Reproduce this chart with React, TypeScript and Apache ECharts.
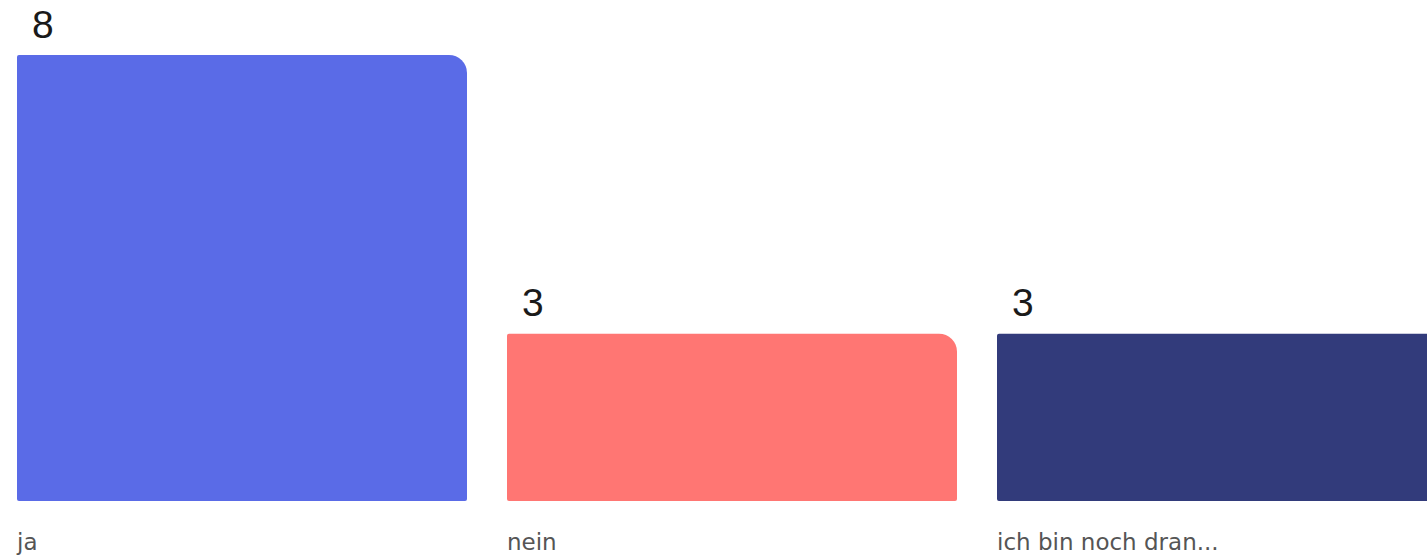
import React, { useEffect, useRef } from "react";
import * as echarts from "echarts";

const categories = ["ja", "nein", "ich bin noch dran..."];
const values = [8, 3, 3];
const barColors = ["#5A6BE7", "#FF7673", "#323B7B"];

export default function App() {
  const ref = useRef<HTMLDivElement>(null);
  useEffect(() => {
    if (!ref.current) return;
    const chart = echarts.init(ref.current, null, { renderer: "svg" });
    chart.setOption({
      animation: false,
      grid: {
        left: -3,
        right: -40,
        top: 55,
        bottom: 55,
        containLabel: false,
        outerBoundsMode: "none",
      },
      xAxis: {
        type: "category",
        data: categories,
        axisLine: { show: false },
        axisTick: { show: false },
        axisLabel: {
          interval: 0,
          margin: 29,
          formatter: (v: string) => `{a|${v}}`,
          rich: {
            a: {
              width: 450,
              align: "left",
              fontSize: 23,
              lineHeight: 24,
              color: "#555555",
              fontFamily: "DejaVu Sans",
            },
          },
        },
      },
      yAxis: {
        type: "value",
        min: 0,
        max: 8,
        show: false,
        splitLine: { show: false },
      },
      series: [
        {
          type: "bar",
          barWidth: 450,
          data: values.map((v, i) => ({
            value: v,
            itemStyle: { color: barColors[i] },
          })),
          itemStyle: { borderRadius: [2, 18, 2, 2] },
          label: {
            show: true,
            position: [15, -31],
            align: "left",
            verticalAlign: "middle",
            fontSize: 39,
            lineHeight: 34,
            color: "#1a1a1a",
            fontFamily: "Liberation Sans",
          },
        },
      ],
    });
    return () => chart.dispose();
  }, []);
  return (
    <div
      ref={ref}
      style={{ position: "absolute", left: 0, top: 0, width: 1427, height: 556 }}
    />
  );
}
